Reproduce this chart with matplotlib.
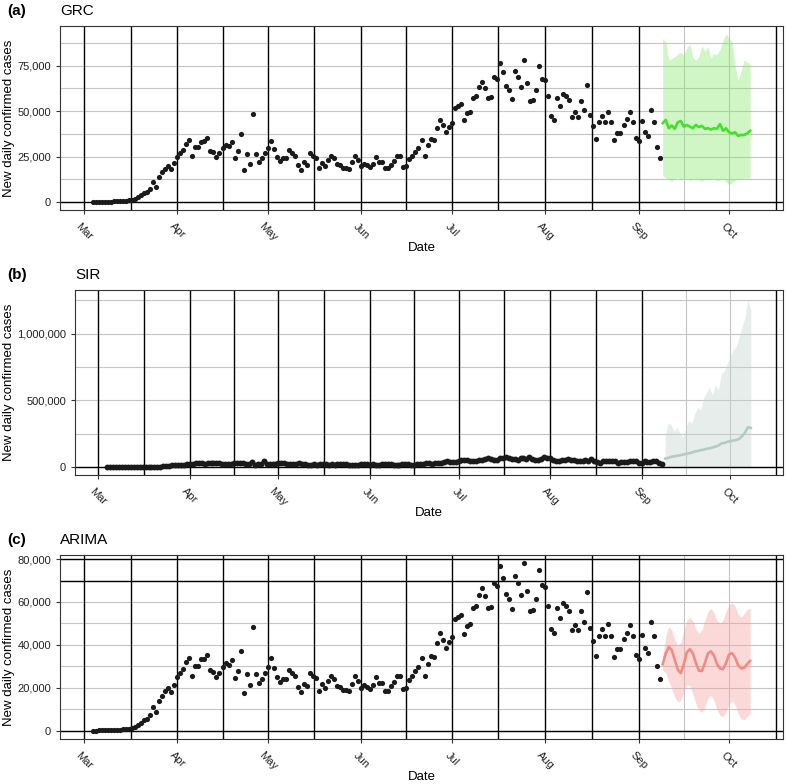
import matplotlib
matplotlib.use('Agg')
import matplotlib.pyplot as plt
import matplotlib.dates as mdates
from matplotlib.ticker import FixedLocator, FuncFormatter
import pandas as pd

plt.rcParams['font.family'] = ['Liberation Sans', 'DejaVu Sans']

# observed new daily cases, one value per day from 2020-03-04
cases = [
    30, 50, 70, 100, 120, 150, 200, 280, 350, 450, 550, 700,
    900, 1200, 1700, 2800, 3600, 4800, 5400, 7400, 11000, 8500,
    13600, 16300, 18300, 19800, 18000, 21400, 24800, 26800, 28700, 32200,
    34100, 25300, 30200, 30200, 33300, 33600, 35300, 28100, 27400, 25000,
    26800, 29900, 31500, 30700, 32900, 24500, 27900, 37200, 17500, 26400,
    21100, 48500, 26500, 22200, 24000, 27100, 29900, 33800, 29100, 25000,
    22500, 24200,
    24200, 28400, 26800, 25300, 20200, 17800, 21900, 20600, 27100, 25600,
    24500, 18600, 21700, 19700, 23300, 25600, 24200, 20900, 20300, 18800,
    18800, 18400, 21900, 25300, 23300, 19700, 21100, 20300, 19500, 21200,
    25000, 22200, 22200, 18600, 18600, 20600, 22500, 25600, 25600, 19500,
    19700, 23700, 25300, 27600, 29600, 34100, 25600, 31200, 34600, 34300,
    40800, 45400, 42300, 38400, 41500, 43600, 51900, 52900, 53900, 45100,
    48800, 49800, 57000, 58100, 63200,
    66300, 62800, 57000, 57800, 68700, 67600, 76700, 71300, 63600, 61500,
    56600, 71900, 68700, 63100, 78300, 65300, 55800, 56100, 61500, 74900,
    67900, 67100, 58300, 47300, 45400, 57400, 52700, 59700, 58100, 56000,
    46700, 49300, 46700, 55600, 50800, 64600, 47900, 42000, 34900, 43900,
    47300, 43900, 49800, 44200, 34300, 38100, 38000, 42600, 45700, 49400,
    43900, 35300, 33600, 44500, 38600, 36100, 50800, 43900, 30200, 24200,
]

# forecasts, one value per day from 2020-09-09
grc_mid = [43400, 45200, 40600, 42100, 40300, 43900, 44600, 41500, 42400, 41500,
           40600, 42400, 41300, 41900, 40300, 40600, 39900, 40600, 40300, 42900,
           39200, 40600, 38400, 37700, 38400, 36400, 36900, 36900, 37700, 39200]
grc_lo = [14500, 13000, 12500, 11500, 12800, 13500, 12000, 12800, 13200, 11800,
          12500, 13000, 12200, 11500, 12800, 12000, 13000, 12500, 11800, 12000,
          13000, 11000, 9500, 10500, 12000, 12500, 12800, 13200, 13000, 13500]
grc_hi = [90000, 88000, 78000, 79000, 80000, 81500, 82500, 80500, 85000, 87000,
          79500, 78000, 80000, 86000, 83000, 85500, 79000, 82000, 81000, 84000,
          89000, 92500, 90000, 88000, 75000, 67000, 72000, 78000, 77000, 76000]

sir_mid = [65000, 70000, 78000, 82000, 86000, 90000, 95000, 100000, 105000, 110000,
           118000, 122000, 128000, 132000, 138000, 142000, 148000, 155000, 162000, 178000,
           182000, 190000, 196000, 200000, 204000, 212000, 232000, 258000, 300000, 295000]
sir_lo = [9000, 8000, 7000, 7500, 6500, 6000, 7000, 6500, 6000, 5500,
          6000, 5500, 5000, 5500, 5000, 4500, 5000, 5000, 4500, 4000,
          4500, 4000, 4000, 3500, 4000, 3500, 3000, 3500, 3000, 3000]
sir_hi = [240000, 330000, 320000, 270000, 300000, 260000, 220000, 300000, 350000, 330000,
          400000, 450000, 430000, 520000, 560000, 600000, 540000, 620000, 580000, 700000,
          720000, 780000, 820000, 880000, 900000, 970000, 1050000, 1120000, 1250000, 1180000]

arima_mid = [31000, 36000, 39000, 37500, 33000, 28500, 26800, 31000, 36500, 38000,
             36000, 31500, 28000, 27800, 31500, 36000, 37000, 35000, 31000, 29000,
             28700, 31500, 35500, 36200, 34000, 30500, 29000, 29300, 31000, 32500]
arima_lo = [28000, 27000, 23000, 19500, 15500, 13500, 14000, 18000, 21500, 21000,
            17000, 12500, 9500, 8500, 11000, 15000, 16500, 14000, 10000, 7000,
            6500, 8500, 12500, 14000, 12000, 8000, 5500, 5000, 6500, 8000]
arima_hi = [34000, 44000, 48500, 47000, 42500, 39500, 41000, 46500, 51500, 53000,
            51000, 47500, 45500, 47000, 51500, 55500, 57000, 55000, 51500, 50000,
            51500, 55500, 58500, 59500, 58000, 54500, 53000, 54500, 56500, 57000]

obs_dates = pd.date_range('2020-03-04', periods=len(cases), freq='D')
fc_dates = pd.date_range('2020-09-09', periods=len(grc_mid), freq='D')

W, H = 787, 784
fig = plt.figure(figsize=(W / 100, H / 100), dpi=100)

month_starts = pd.date_range('2020-03-01', '2020-11-01', freq='MS')
mids = [a + (b - a) / 2 for a, b in zip(month_starts[:-1], month_starts[1:])]
black_v = [d for d in list(month_starts[:-2]) + mids[:-2]] + [mids[-1]]
grey_v = [mids[-2], month_starts[-2]]

xlo = obs_dates[0] - pd.Timedelta(days=10.9)
xhi = fc_dates[-1] + pd.Timedelta(days=10.9)

fmt = FuncFormatter(lambda v, p: f'{v:,.0f}')
edge = '#333333'


def panel(box, tag, title, mid, lo, hi, line_c, fill_c, ylim, majors, minors,
          black_h, dot_s):
    l, t, r, b = box
    ax = fig.add_axes([l / W, 1 - b / H, (r - l) / W, (b - t) / H])
    for y in majors + minors:
        ax.axhline(y, color='#c4c4c4', lw=0.8, zorder=0)
    for d in grey_v:
        ax.axvline(d, color='#c4c4c4', lw=0.8, zorder=0)
    ax.fill_between(fc_dates, lo, hi, color=fill_c, alpha=0.4, lw=0, zorder=1)
    for d in black_v:
        ax.axvline(d, color='black', lw=1.0, zorder=2)
    for y in black_h:
        ax.axhline(y, color='black', lw=1.0, zorder=2)
    ax.plot(fc_dates, mid, color=line_c, lw=1.9, zorder=3)
    ax.scatter(obs_dates, cases, s=dot_s, color='#1a1a1a', lw=0, zorder=4)

    ax.set_xlim(xlo, xhi)
    ax.set_ylim(*ylim)
    ax.yaxis.set_major_locator(FixedLocator(majors))
    ax.yaxis.set_major_formatter(fmt)
    ax.xaxis.set_major_locator(mdates.MonthLocator())
    ax.xaxis.set_major_formatter(mdates.DateFormatter('%b'))
    ax.tick_params(axis='both', colors=edge, labelcolor='#222222',
                   labelsize=8, length=3, width=0.8)
    ax.tick_params(axis='x', pad=5)
    for lab in ax.get_xticklabels():
        lab.set_rotation(-45)
        lab.set_ha('center')
        lab.set_va('top')
    for s in ax.spines.values():
        s.set_color(edge)
        s.set_linewidth(0.8)

    ax.set_xlabel('Date', fontsize=9.5)
    ax.xaxis.set_label_coords(0.5, -0.172)
    ax.set_ylabel('New daily confirmed cases', fontsize=9.5)
    ax.yaxis.set_label_coords((15 - l) / (r - l), 0.5)

    fig.text(7 / W, 1 - (t - 15) / H, tag, fontsize=11, weight='bold',
             va='center', ha='left')
    fig.text(l / W, 1 - (t - 15) / H, title, fontsize=11, va='center',
             ha='left')
    return ax


panel((60, 26, 783, 210), '(a)', 'GRC', grc_mid, grc_lo, grc_hi,
      '#44e02c', '#87e96c', (-4400, 96900),
      [0, 25000, 50000, 75000], [12500, 37500, 62500, 87500], [0], 14)

panel((75, 290, 783, 475), '(b)', 'SIR', sir_mid, sir_lo, sir_hi,
      '#b4cbc2', '#c5d4cd', (-57700, 1327000),
      [0, 500000, 1000000], [250000, 750000, 1250000], [0], 18)

panel((60, 555, 783, 739), '(c)', 'ARIMA', arima_mid, arima_lo, arima_hi,
      '#f28b82', '#f7a2a2', (-3900, 81900),
      [0, 20000, 40000, 60000, 80000], [10000, 30000, 50000, 70000],
      [0, 70000, 80000], 14)

fig.savefig('out.png', dpi=100)
